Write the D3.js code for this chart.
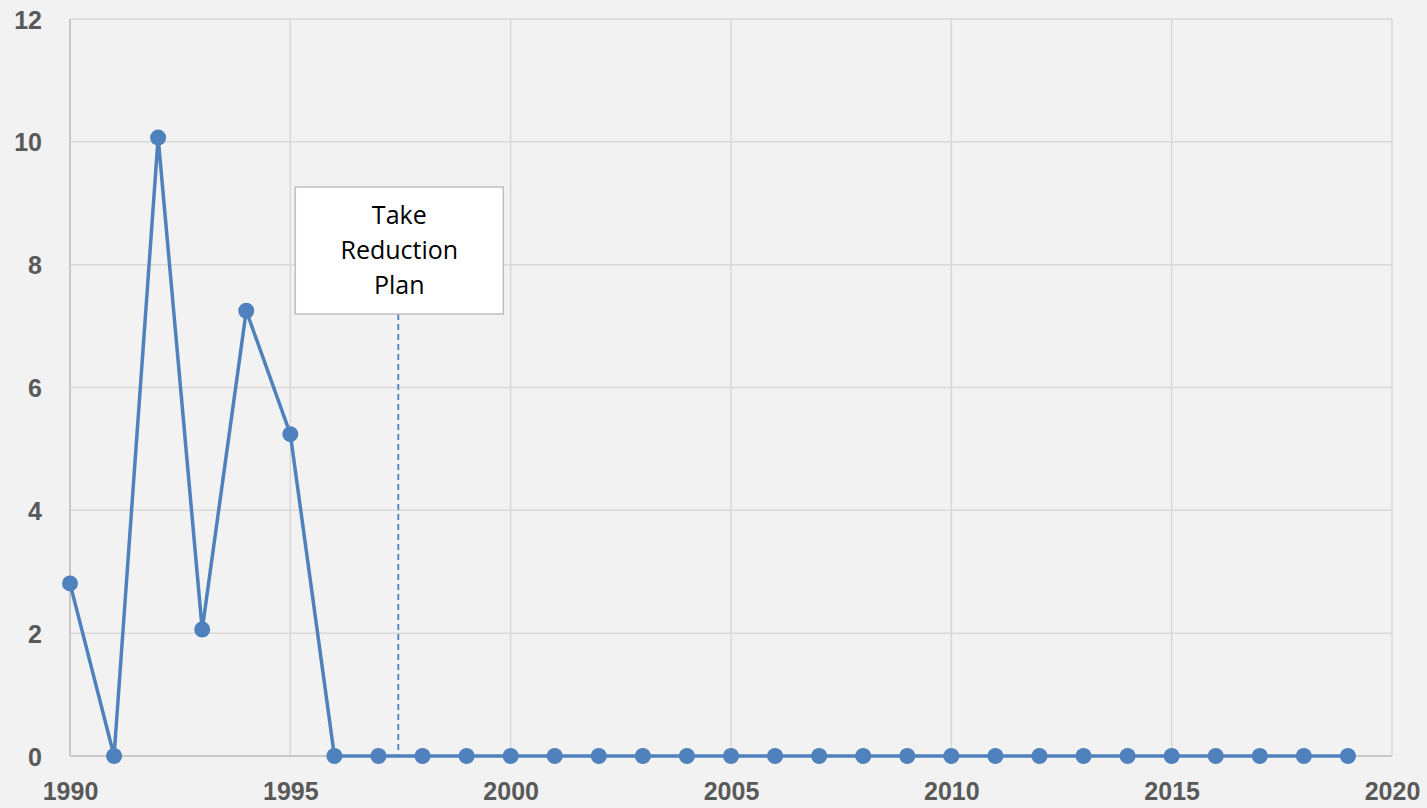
<!DOCTYPE html>
<html><head><meta charset="utf-8">
<script src="https://cdn.jsdelivr.net/npm/d3@7"></script>
<style>html,body{margin:0;padding:0;background:#f2f2f2;}svg{display:block;}</style>
</head><body>
<script>
const years = d3.range(1990, 2020);
const values = [2.81, 0, 10.07, 2.06, 7.25, 5.24, 0, 0, 0, 0, 0, 0, 0, 0, 0, 0, 0, 0, 0, 0, 0, 0, 0, 0, 0, 0, 0, 0, 0, 0];
const xTicks = [1990, 1995, 2000, 2005, 2010, 2015, 2020];
const yTicks = [0, 2, 4, 6, 8, 10, 12];
const annotationYear = 1997.45;
const annotationLines = ["Take", "Reduction", "Plan"];

const W = 1427, H = 808;
const m = {left: 70, right: 35, top: 19, bottom: 52};
const svg = d3.select("body").append("svg").attr("width", W).attr("height", H);
svg.append("rect").attr("width", W).attr("height", H).attr("fill", "#f2f2f2");

const x = d3.scaleLinear().domain([1990, 2020]).range([m.left, W - m.right]);
const y = d3.scaleLinear().domain([0, 12]).range([H - m.bottom, m.top]);

// gridlines
const g = svg.append("g");
g.selectAll(".hg").data(yTicks).join("line")
  .attr("x1", x(1990)).attr("x2", x(2020))
  .attr("y1", d => y(d)).attr("y2", d => y(d))
  .attr("stroke", "#d9d9d9").attr("stroke-width", 1.5);
g.selectAll(".vg").data(xTicks).join("line")
  .attr("x1", d => x(d)).attr("x2", d => x(d))
  .attr("y1", y(0)).attr("y2", y(12))
  .attr("stroke", "#d9d9d9").attr("stroke-width", 1.5);
// axis lines
g.append("line").attr("x1", x(1990)).attr("x2", x(2020)).attr("y1", y(0)).attr("y2", y(0))
  .attr("stroke", "#c8c8c8").attr("stroke-width", 2);
g.append("line").attr("x1", x(1990)).attr("x2", x(1990)).attr("y1", y(0)).attr("y2", y(12))
  .attr("stroke", "#c8c8c8").attr("stroke-width", 2);

// axes labels using d3 axes
const yAxis = svg.append("g").attr("transform", `translate(${m.left},0)`)
  .call(d3.axisLeft(y).tickValues(yTicks).tickSize(0).tickPadding(28).tickFormat(d3.format("d")));
yAxis.select(".domain").remove();
yAxis.selectAll("text").attr("font-family", "Liberation Sans, Arial, sans-serif")
  .attr("font-size", 25).attr("font-weight", "bold").attr("fill", "#595959").attr("dy", "0.36em");

const xAxis = svg.append("g").attr("transform", `translate(0,${y(0)})`)
  .call(d3.axisBottom(x).tickValues(xTicks).tickSize(0).tickPadding(28).tickFormat(d3.format("d")));
xAxis.select(".domain").remove();
xAxis.selectAll("text").attr("font-family", "Liberation Sans, Arial, sans-serif")
  .attr("font-size", 25).attr("font-weight", "bold").attr("fill", "#595959").attr("dy", "0.62em");

// annotation dashed line
const ax = x(annotationYear);
svg.append("line").attr("x1", ax).attr("x2", ax).attr("y1", 314).attr("y2", y(0))
  .attr("stroke", "#4f81bd").attr("stroke-width", 1.8).attr("stroke-dasharray", "6,4");

// series
const color = "#4f81bd";
const data = years.map((yr, i) => ({yr, v: values[i]}));
svg.append("path").datum(data)
  .attr("d", d3.line().x(d => x(d.yr)).y(d => y(d.v)))
  .attr("fill", "none").attr("stroke", color).attr("stroke-width", 3.5).attr("stroke-linejoin", "round");
svg.selectAll(".pt").data(data).join("circle")
  .attr("cx", d => x(d.yr)).attr("cy", d => y(d.v)).attr("r", 8).attr("fill", color);

// annotation box
const bw = 208, bh = 127;
const bx = ax - 103, by = 187;
svg.append("rect").attr("x", bx).attr("y", by).attr("width", bw).attr("height", bh)
  .attr("fill", "#ffffff").attr("stroke", "#bfbfbf").attr("stroke-width", 1.5);
svg.append("g").selectAll("text").data(annotationLines).join("text")
  .attr("x", bx + bw / 2).attr("y", (d, i) => 224 + i * 35)
  .attr("text-anchor", "middle").attr("font-family", "Open Sans, Liberation Sans, sans-serif")
  .attr("font-size", 25).attr("fill", "#000").text(d => d);
</script>
</body></html>
